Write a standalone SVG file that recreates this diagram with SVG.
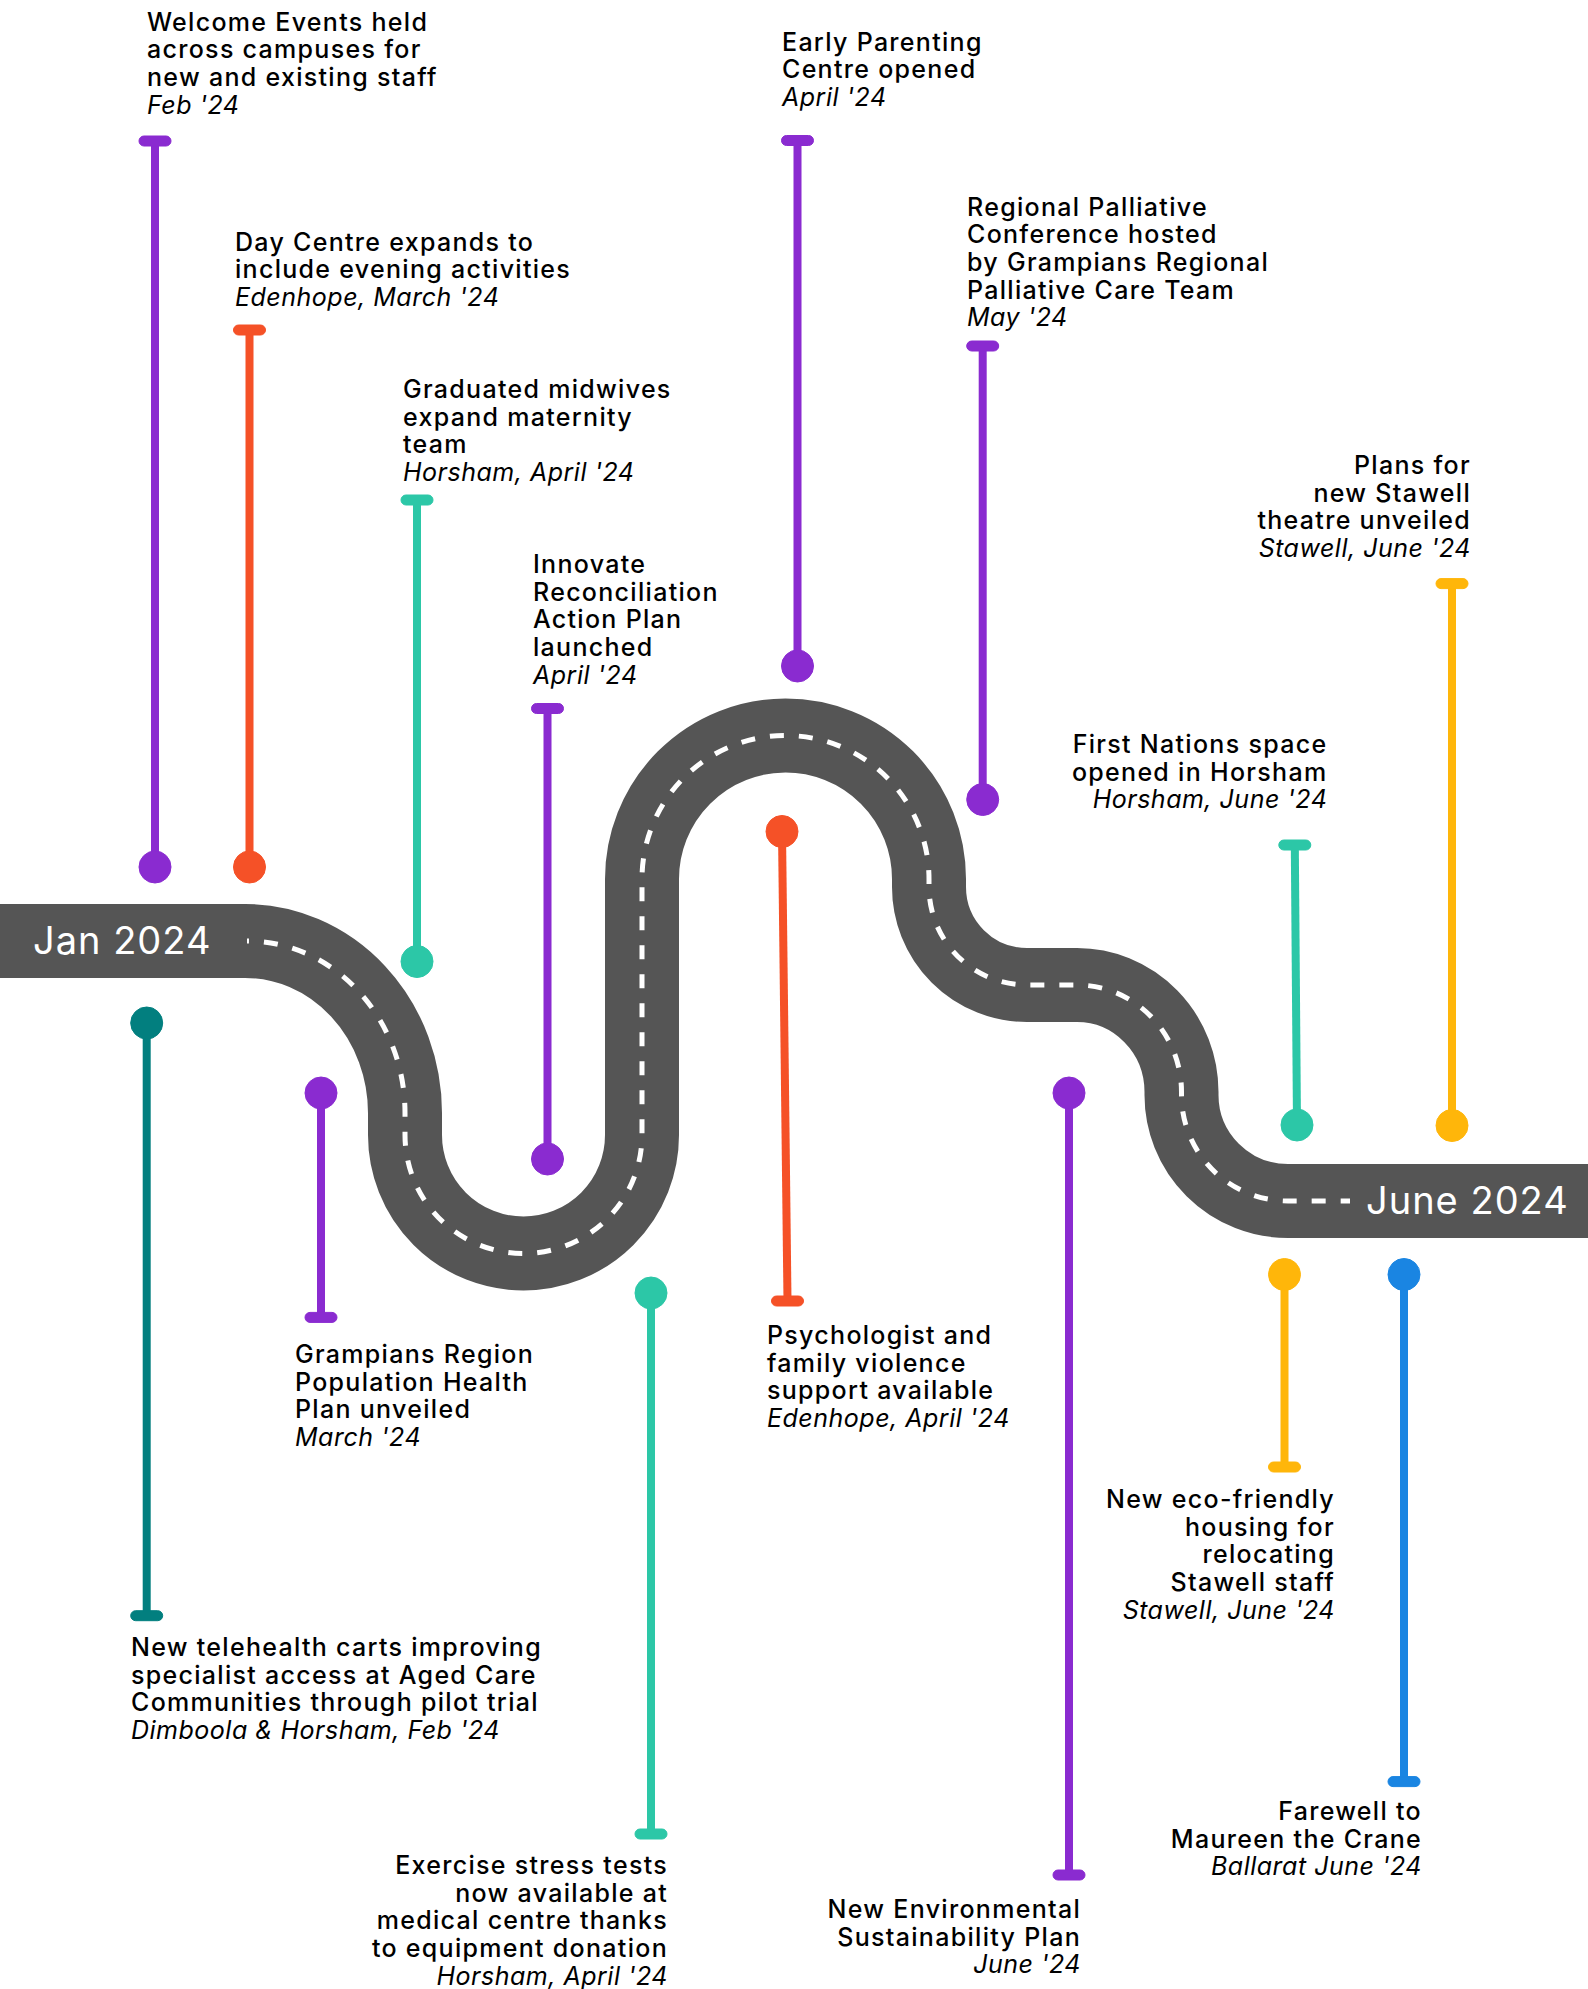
<svg xmlns="http://www.w3.org/2000/svg" width="1588" height="1989" viewBox="0 0 1588 1989">
  <style>
    .t { font-family: "Inter", "Noto Sans", sans-serif; font-size: 25px; font-weight: 500; fill: #000; letter-spacing: 1.3px; }
    .d { font-style: italic; font-weight: 400; letter-spacing: 0.5px; }
    .e { text-anchor: end; }
    .rl { font-family: "Inter", "Noto Sans", sans-serif; font-size: 38px; font-weight: 400; fill: #fff; letter-spacing: 1px; }
    .stem { stroke-width: 8; fill: none; }
    .purple { stroke: #8A2BD0; fill: #8A2BD0; }
    .orange { stroke: #F55127; fill: #F55127; }
    .teal { stroke: #2CC7A7; fill: #2CC7A7; }
    .dteal { stroke: #027F7F; fill: #027F7F; }
    .yellow { stroke: #FFB60A; fill: #FFB60A; }
    .blue { stroke: #1A85E2; fill: #1A85E2; }
  </style>
  <defs>
    <rect id="cap" x="-16" y="-5" width="32" height="10" rx="5"/>
  </defs>
  <rect width="1588" height="1989" fill="#fff"/>

  <g id="road">
    <path d="M 0 941 H 245 A 160 172 0 0 1 405 1113 V 1135 A 118.5 118.5 0 0 0 642 1135 V 879 A 143.5 143.5 0 0 1 929 879 V 887 A 98 98 0 0 0 1027 985 H 1077 A 104.5 107 0 0 1 1181.5 1092 V 1095 A 106.5 106 0 0 0 1288 1201 H 1588" fill="none" stroke="#555555" stroke-width="74"/>
    <path d="M 247 941 A 158 172 0 0 1 405 1113 V 1135 A 118.5 118.5 0 0 0 642 1135 V 879 A 143.5 143.5 0 0 1 929 879 V 887 A 98 98 0 0 0 1027 985 H 1077 A 104.5 107 0 0 1 1181.5 1092 V 1095 A 106.5 106 0 0 0 1288 1201 H 1350" fill="none" stroke="#fff" stroke-width="5" stroke-dasharray="14 15" stroke-dashoffset="12"/>
    <text class="rl" x="33" y="954">Jan 2024</text>
    <text class="rl" x="1366" y="1214">June 2024</text>
  </g>

  <g id="connectors">
    <g class="purple"><line class="stem" x1="155" y1="141" x2="155" y2="867"/><use href="#cap" x="155" y="141"/><circle cx="155" cy="867" r="16"/></g>
    <g class="orange"><line class="stem" x1="249.5" y1="330" x2="249.5" y2="867"/><use href="#cap" x="249.5" y="330"/><circle cx="249.5" cy="867" r="16"/></g>
    <g class="teal"><line class="stem" x1="417" y1="500" x2="417" y2="961.5"/><use href="#cap" x="417" y="500"/><circle cx="417" cy="961.5" r="16"/></g>
    <g class="purple"><line class="stem" x1="547.5" y1="708.5" x2="547.5" y2="1159"/><use href="#cap" x="547.5" y="708.5"/><circle cx="547.5" cy="1159" r="16"/></g>
    <g class="purple"><line class="stem" x1="797.5" y1="140.5" x2="797.5" y2="666"/><use href="#cap" x="797.5" y="140.5"/><circle cx="797.5" cy="666" r="16"/></g>
    <g class="purple"><line class="stem" x1="982.7" y1="346" x2="982.7" y2="799.5"/><use href="#cap" x="982.7" y="346"/><circle cx="982.7" cy="799.5" r="16"/></g>
    <g class="yellow"><line class="stem" x1="1452" y1="583.6" x2="1452" y2="1125.5"/><use href="#cap" x="1452" y="583.6"/><circle cx="1452" cy="1125.5" r="16"/></g>
    <g class="teal"><line class="stem" x1="1294.8" y1="845" x2="1297" y2="1125"/><use href="#cap" x="1294.8" y="845"/><circle cx="1297" cy="1125" r="16"/></g>
    <g class="dteal"><line class="stem" x1="146.7" y1="1023" x2="146.7" y2="1615.7"/><use href="#cap" x="146.7" y="1615.7"/><circle cx="146.7" cy="1023" r="16"/></g>
    <g class="purple"><line class="stem" x1="321" y1="1093" x2="321" y2="1317.4"/><use href="#cap" x="321" y="1317.4"/><circle cx="321" cy="1093" r="16"/></g>
    <g class="teal"><line class="stem" x1="651" y1="1293" x2="651" y2="1834"/><use href="#cap" x="651" y="1834"/><circle cx="651" cy="1293" r="16"/></g>
    <g class="orange"><line class="stem" x1="782" y1="831.5" x2="787.5" y2="1301"/><use href="#cap" x="787.5" y="1301"/><circle cx="782" cy="831.5" r="16"/></g>
    <g class="purple"><line class="stem" x1="1069" y1="1093" x2="1069" y2="1875"/><use href="#cap" x="1069" y="1875"/><circle cx="1069" cy="1093" r="16"/></g>
    <g class="yellow"><line class="stem" x1="1284.5" y1="1274.5" x2="1284.5" y2="1467"/><use href="#cap" x="1284.5" y="1467"/><circle cx="1284.5" cy="1274.5" r="16"/></g>
    <g class="blue"><line class="stem" x1="1404" y1="1274.5" x2="1404" y2="1781.6"/><use href="#cap" x="1404" y="1781.6"/><circle cx="1404" cy="1274.5" r="16"/></g>
  </g>

  <g id="n-welcome"><text class="t" x="147" y="30.7"><tspan x="147">Welcome Events held</tspan><tspan x="147" dy="27.7">across campuses for</tspan><tspan x="147" dy="27.7">new and existing staff</tspan><tspan x="147" dy="27.7" class="d">Feb '24</tspan></text></g>
  <g id="n-daycentre"><text class="t" x="235" y="250.7"><tspan x="235">Day Centre expands to</tspan><tspan x="235" dy="27.7">include evening activities</tspan><tspan x="235" dy="27.7" class="d">Edenhope, March '24</tspan></text></g>
  <g id="n-midwives"><text class="t" x="403" y="398"><tspan x="403">Graduated midwives</tspan><tspan x="403" dy="27.7">expand maternity</tspan><tspan x="403" dy="27.7">team</tspan><tspan x="403" dy="27.7" class="d">Horsham, April '24</tspan></text></g>
  <g id="n-reconciliation"><text class="t" x="533" y="573"><tspan x="533">Innovate</tspan><tspan x="533" dy="27.7">Reconciliation</tspan><tspan x="533" dy="27.7">Action Plan</tspan><tspan x="533" dy="27.7">launched</tspan><tspan x="533" dy="27.7" class="d">April '24</tspan></text></g>
  <g id="n-parenting"><text class="t" x="782" y="50.5"><tspan x="782">Early Parenting</tspan><tspan x="782" dy="27.7">Centre opened</tspan><tspan x="782" dy="27.7" class="d">April '24</tspan></text></g>
  <g id="n-palliative"><text class="t" x="967" y="215.5"><tspan x="967">Regional Palliative</tspan><tspan x="967" dy="27.7">Conference hosted</tspan><tspan x="967" dy="27.7">by Grampians Regional</tspan><tspan x="967" dy="27.7">Palliative Care Team</tspan><tspan x="967" dy="27.7" class="d">May '24</tspan></text></g>
  <g id="n-theatre"><text class="t e" x="1471" y="473.8"><tspan x="1471">Plans for</tspan><tspan x="1471" dy="27.7">new Stawell</tspan><tspan x="1471" dy="27.7">theatre unveiled</tspan><tspan x="1471" dy="27.7" class="d">Stawell, June '24</tspan></text></g>
  <g id="n-firstnations"><text class="t e" x="1327.4" y="753"><tspan x="1327.4">First Nations space</tspan><tspan x="1327.4" dy="27.7">opened in Horsham</tspan><tspan x="1327.4" dy="27.7" class="d">Horsham, June '24</tspan></text></g>
  <g id="n-telehealth"><text class="t" x="131" y="1656"><tspan x="131">New telehealth carts improving</tspan><tspan x="131" dy="27.7">specialist access at Aged Care</tspan><tspan x="131" dy="27.7">Communities through pilot trial</tspan><tspan x="131" dy="27.7" class="d">Dimboola &amp; Horsham, Feb '24</tspan></text></g>
  <g id="n-population"><text class="t" x="295" y="1363"><tspan x="295">Grampians Region</tspan><tspan x="295" dy="27.7">Population Health</tspan><tspan x="295" dy="27.7">Plan unveiled</tspan><tspan x="295" dy="27.7" class="d">March '24</tspan></text></g>
  <g id="n-exercise"><text class="t e" x="668" y="1874"><tspan x="668">Exercise stress tests</tspan><tspan x="668" dy="27.7">now available at</tspan><tspan x="668" dy="27.7">medical centre thanks</tspan><tspan x="668" dy="27.7">to equipment donation</tspan><tspan x="668" dy="27.7" class="d">Horsham, April '24</tspan></text></g>
  <g id="n-psychologist"><text class="t" x="767" y="1344"><tspan x="767">Psychologist and</tspan><tspan x="767" dy="27.7">family violence</tspan><tspan x="767" dy="27.7">support available</tspan><tspan x="767" dy="27.7" class="d">Edenhope, April '24</tspan></text></g>
  <g id="n-environmental"><text class="t e" x="1081" y="1918"><tspan x="1081">New Environmental</tspan><tspan x="1081" dy="27.7">Sustainability Plan</tspan><tspan x="1081" dy="27.7" class="d">June '24</tspan></text></g>
  <g id="n-housing"><text class="t e" x="1335" y="1508"><tspan x="1335">New eco-friendly</tspan><tspan x="1335" dy="27.7">housing for</tspan><tspan x="1335" dy="27.7">relocating</tspan><tspan x="1335" dy="27.7">Stawell staff</tspan><tspan x="1335" dy="27.7" class="d">Stawell, June '24</tspan></text></g>
  <g id="n-farewell"><text class="t e" x="1422" y="1820"><tspan x="1422">Farewell to</tspan><tspan x="1422" dy="27.7">Maureen the Crane</tspan><tspan x="1422" dy="27.7" class="d">Ballarat June '24</tspan></text></g>
</svg>
